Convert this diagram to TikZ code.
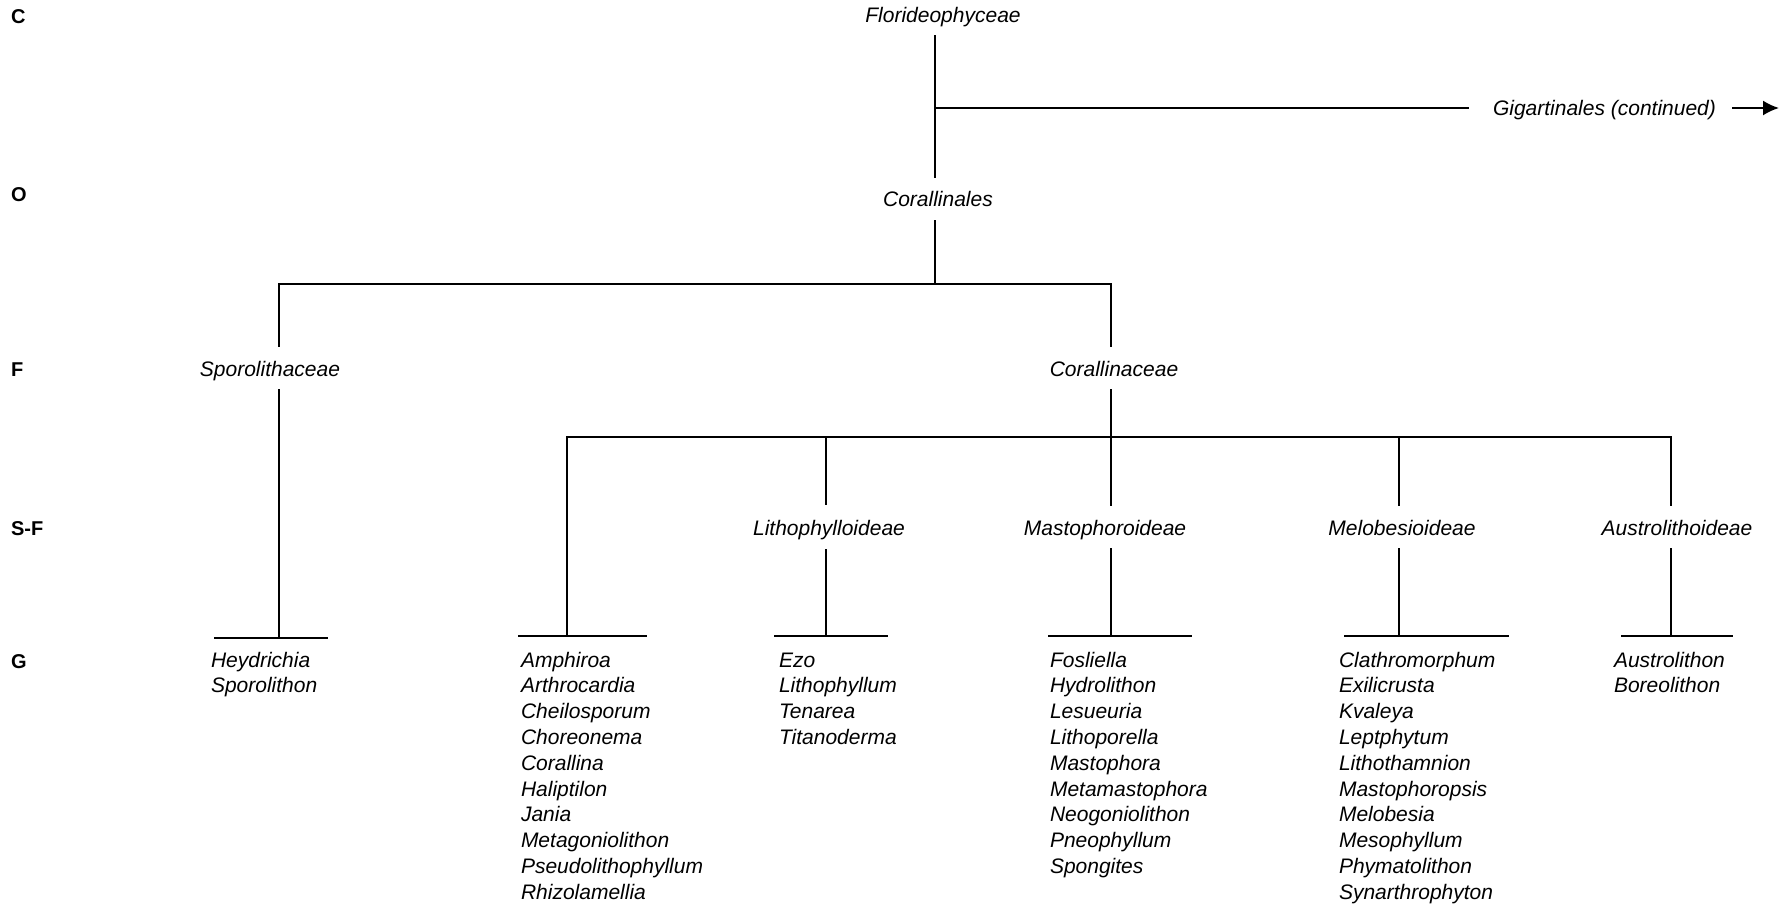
\documentclass[tikz,border=0pt]{standalone}
\usepackage{fontspec}
\setmainfont{Liberation Sans}
\usetikzlibrary{arrows.meta}
\begin{document}
\begin{tikzpicture}[x=1pt,y=-1pt,
  taxon/.style={font=\fontsize{21}{25}\selectfont\itshape, inner sep=0pt, outer sep=0pt, text height=30pt, text depth=14pt, anchor=base},
  genus/.style={font=\fontsize{21}{25}\selectfont\itshape, inner sep=0pt, outer sep=0pt, anchor=base west},
  rank/.style={font=\fontsize{20}{24}\selectfont\bfseries, inner sep=0pt, outer sep=0pt, anchor=base west},
  link/.style={line width=2pt, line cap=rect},
  thinlink/.style={line width=1.2pt},
  gbar/.style={line width=2.2pt}]
\useasboundingbox (0,0) rectangle (1785,905);

% rank labels
\node[rank] (rC) at (11,23) {C};
\node[rank] (rO) at (11,201) {O};
\node[rank] (rF) at (11,376) {F};
\node[rank] (rSF) at (11,535) {S-F};
\node[rank] (rG) at (11,668) {G};

% taxa
\node[taxon] (flor) at (943,22) {Florideophyceae};
\node[genus] (gig) at (1493,115) {Gigartinales (continued)};
\node[taxon] (corl) at (938,206.5) {Corallinales};
\node[taxon] (sporo) at (270,376) {Sporolithaceae};
\node[taxon] (cora) at (1114,376) {Corallinaceae};
\node[taxon] (litho) at (829,535) {Lithophylloideae};
\node[taxon] (masto) at (1105,535) {Mastophoroideae};
\node[taxon] (melob) at (1402,535) {Melobesioideae};
\node[taxon] (austro) at (1677,535) {Austrolithoideae};

% coordinates
\coordinate (fj) at (935,108);
\coordinate (gl) at (1468,108);
\coordinate (as) at (1732,108);
\coordinate (ae) at (1779,108);
\coordinate (ob) at (935,284);
\coordinate (obl) at (279,284);
\coordinate (obr) at (1111,284);
\coordinate (fb) at (1111,437);
\coordinate (fbl) at (567,437);
\coordinate (fbr) at (1671,437);
\coordinate (fb2) at (826,437);
\coordinate (fb4) at (1399,437);

% genus bar coordinates
\coordinate (gAm) at (279,638);
\coordinate (gAl) at (214,638);
\coordinate (gAr) at (328,638);
\coordinate (gBm) at (567,636);
\coordinate (gBl) at (518,636);
\coordinate (gBr) at (647,636);
\coordinate (gCm) at (826,636);
\coordinate (gCl) at (774,636);
\coordinate (gCr) at (888,636);
\coordinate (gDm) at (1111,636);
\coordinate (gDl) at (1048,636);
\coordinate (gDr) at (1192,636);
\coordinate (gEm) at (1399,636);
\coordinate (gEl) at (1344,636);
\coordinate (gEr) at (1509,636);
\coordinate (gFm) at (1671,636);
\coordinate (gFl) at (1621,636);
\coordinate (gFr) at (1733,636);

% connectors
\draw[link] (flor.south -| fj) -- (corl.north -| fj);
\draw[link] (fj) -- (gl);
\draw[line width=2pt,-{Latex[length=16pt,width=15pt]}] (as) -- (ae);
\draw[link] (corl.south -| ob) -- (ob);
\draw[link] (sporo.north -| obl) -- (obl) -- (obr) -- (cora.north -| obr);
\draw[link] (sporo.south -| obl) -- (gAm);
\draw[link] (cora.south -| fb) -- (fb);
\draw[link] (gBm) -- (fbl) -- (fbr) -- (austro.north -| fbr);
\draw[thinlink] (fb2) -- (litho.north -| fb2);
\draw[link] (fb) -- (masto.north -| fb);
\draw[link] (fb4) -- (melob.north -| fb4);
\draw[thinlink] (litho.south -| gCm) -- (gCm);
\draw[link] (masto.south -| gDm) -- (gDm);
\draw[link] (melob.south -| gEm) -- (gEm);
\draw[link] (austro.south -| gFm) -- (gFm);

% genus bars
\draw[gbar] (gAl) -- (gAr);
\draw[gbar] (gBl) -- (gBr);
\draw[gbar] (gCl) -- (gCr);
\draw[gbar] (gDl) -- (gDr);
\draw[gbar] (gEl) -- (gEr);
\draw[gbar] (gFl) -- (gFr);

% genera
\foreach \g [count=\i] in {Heydrichia,Sporolithon}
  \node[genus] (gA\i) at (211,{667+25.8*(\i-1)}) {\g};
\foreach \g [count=\i] in {Amphiroa,Arthrocardia,Cheilosporum,Choreonema,Corallina,Haliptilon,Jania,Metagoniolithon,Pseudolithophyllum,Rhizolamellia}
  \node[genus] (gB\i) at (521,{667+25.8*(\i-1)}) {\g};
\foreach \g [count=\i] in {Ezo,Lithophyllum,Tenarea,Titanoderma}
  \node[genus] (gC\i) at (779,{667+25.8*(\i-1)}) {\g};
\foreach \g [count=\i] in {Fosliella,Hydrolithon,Lesueuria,Lithoporella,Mastophora,Metamastophora,Neogoniolithon,Pneophyllum,Spongites}
  \node[genus] (gD\i) at (1050,{667+25.8*(\i-1)}) {\g};
\foreach \g [count=\i] in {Clathromorphum,Exilicrusta,Kvaleya,Leptphytum,Lithothamnion,Mastophoropsis,Melobesia,Mesophyllum,Phymatolithon,Synarthrophyton}
  \node[genus] (gE\i) at (1339,{667+25.8*(\i-1)}) {\g};
\foreach \g [count=\i] in {Austrolithon,Boreolithon}
  \node[genus] (gF\i) at (1614,{667+25.8*(\i-1)}) {\g};
\end{tikzpicture}
\end{document}
